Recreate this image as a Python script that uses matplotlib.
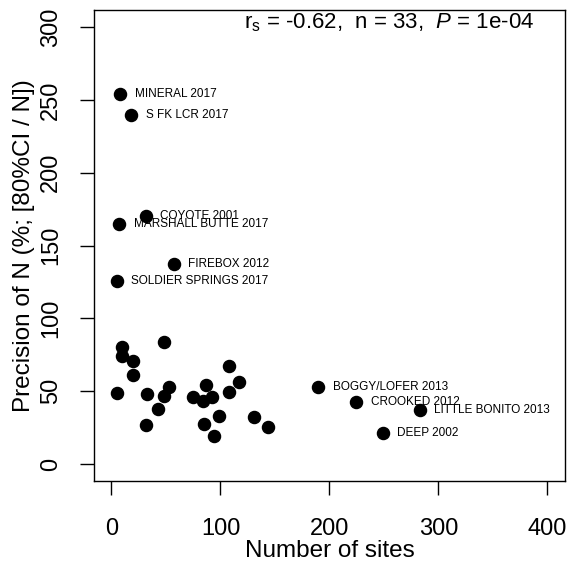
import matplotlib
matplotlib.use('Agg')
import matplotlib.pyplot as plt

plt.rcParams['font.family'] = ['Liberation Sans', 'DejaVu Sans']
plt.rcParams['mathtext.fontset'] = 'custom'
plt.rcParams['mathtext.rm'] = 'Liberation Sans'
plt.rcParams['mathtext.it'] = 'Liberation Sans:italic'

# labelled streams
names = ['MINERAL 2017', 'S FK LCR 2017', 'COYOTE 2001', 'MARSHALL BUTTE 2017',
         'FIREBOX 2012', 'SOLDIER SPRINGS 2017', 'BOGGY/LOFER 2013',
         'CROOKED 2012', 'LITTLE BONITO 2013', 'DEEP 2002']
sites_lab = [8, 18, 31.5, 7, 57, 5, 189.5, 224.5, 283, 249]
prec_lab = [254, 239.5, 170.5, 164.5, 137.5, 125.5, 53, 42.5, 37, 21.5]

# remaining streams (no label)
sites = [10, 10, 20, 20, 48, 5.5, 33, 52.5, 48, 43, 31.5, 75, 87, 84,
         92.5, 108, 117, 108, 99, 85, 94, 130.5, 143.5]
prec = [80, 74, 71, 61, 84, 49, 48, 53, 46.5, 37.5, 26.5, 46, 54.5, 43.5,
        46, 67.5, 56.5, 49.5, 33, 27.5, 19.5, 32.5, 25.5]

fig = plt.figure(figsize=(5.68, 5.73), dpi=100)
ax = fig.add_axes([0.1655, 0.1597, 0.829, 0.8237])

ax.plot(sites, prec, 'o', color='black', markersize=8.7, linestyle='none')
ax.plot(sites_lab, prec_lab, 'o', color='black', markersize=8.7, linestyle='none')
for nm, x, y in zip(names, sites_lab, prec_lab):
    ax.annotate(nm, (x, y), xytext=(10.5, 0), textcoords='offset points',
                ha='left', va='center', fontsize=8.5)

ax.set_xlim(-16, 416)
ax.set_ylim(-12, 312)
ax.set_xticks([0, 100, 200, 300, 400])
ax.set_yticks([0, 50, 100, 150, 200, 250, 300])
ax.tick_params(axis='both', labelsize=17, length=10, width=1, pad=13)
ax.tick_params(axis='x', pad=16)
for lab in ax.get_yticklabels():
    lab.set_rotation(90)
    lab.set_va('center')
for sp in ax.spines.values():
    sp.set_linewidth(1)

ax.set_xlabel('Number of sites', fontsize=17.5, labelpad=0)
ax.set_ylabel('Precision of N (%; [80%CI / N])', fontsize=17.5, labelpad=4)

ax.text(0.934, 0.971, r'r$_\mathregular{s}$ = -0.62,  n = 33,  $\mathit{P}$ = 1e-04',
        transform=ax.transAxes, ha='right', va='center', fontsize=16)

fig.savefig('out.png', dpi=100)
